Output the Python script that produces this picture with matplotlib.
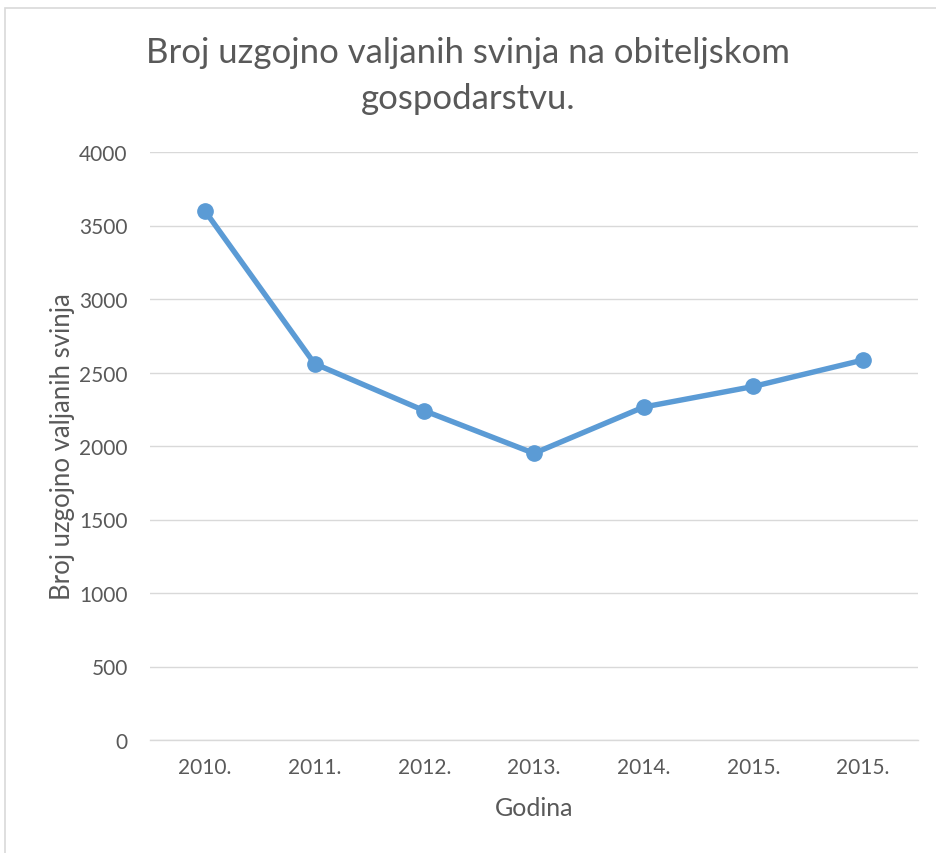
import matplotlib
matplotlib.use("Agg")
import matplotlib.pyplot as plt
from matplotlib.patches import Rectangle

categories = ["2010.", "2011.", "2012.", "2013.", "2014.", "2015.", "2015."]
values = [3600, 2560, 2240, 1950, 2265, 2405, 2585]
yticks = [0, 500, 1000, 1500, 2000, 2500, 3000, 3500, 4000]
title = "Broj uzgojno valjanih svinja na obiteljskom\ngospodarstvu."
xlabel = "Godina"
ylabel = "Broj uzgojno valjanih svinja"

plt.rcParams['font.family'] = ['Lato', 'DejaVu Sans']
txt = "#595959"
grid = "#d9d9d9"

fig = plt.figure(figsize=(9.37, 8.54), dpi=100)
fig.patch.set_facecolor("white")
fig.patches.append(Rectangle((5.5/937, -0.1), 1.2, 1 - 8.5/854 + 0.1,
                             transform=fig.transFigure, fill=False,
                             edgecolor=grid, linewidth=1.2))

ax = fig.add_axes([150/937, 1 - 741/854, 768/937, 588/854])
x = list(range(len(categories)))
ax.plot(x, values, color="#5B9BD5", linewidth=3.9, marker="o",
        markersize=11, solid_capstyle="round", zorder=3)
ax.set_xlim(-0.5, len(categories) - 0.5)
ax.set_ylim(0, 4000)
ax.set_yticks(yticks)
ax.set_xticks(x)
ax.set_xticklabels(categories)
ax.grid(axis="y", color=grid, linewidth=1)
ax.set_axisbelow(True)
for s in ["top", "right", "left"]:
    ax.spines[s].set_visible(False)
ax.spines["bottom"].set_color(grid)
ax.spines["bottom"].set_linewidth(1)
ax.tick_params(axis="both", length=0, colors=txt, labelsize=15)
ax.tick_params(axis="y", pad=16)
ax.tick_params(axis="x", pad=12)

ax.set_xlabel(xlabel, fontsize=18, color=txt, labelpad=14)
ax.set_ylabel(ylabel, fontsize=18.5, color=txt, labelpad=3)
fig.text(0.5, 1 - 76/854, title, ha="center", va="center", fontsize=25,
         color=txt, linespacing=1.55)

fig.savefig("out.png", dpi=100, facecolor="white")
